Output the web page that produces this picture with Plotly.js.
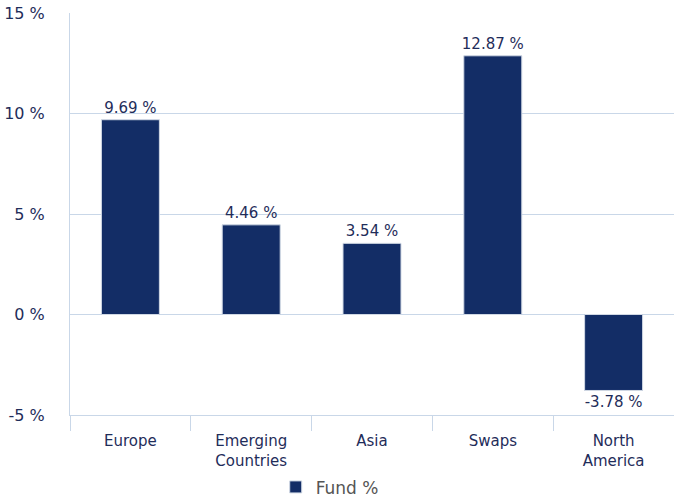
<!DOCTYPE html>
<html>
<head>
<meta charset="utf-8">
<script src="https://cdn.plot.ly/plotly-3.0.1.min.js"></script>
<style>
  body { margin: 0; background: #fff; }
  #chart { width: 674px; height: 500px; }
</style>
</head>
<body>
<div id="chart"></div>
<script>
// regions and fund performance (%)
var regions = ['Europe', 'Emerging<br>Countries', 'Asia', 'Swaps', 'North<br>America'];
var fundValues = [9.69, 4.46, 3.54, 12.87, -3.78];
var yTicks = [-5, 0, 5, 10, 15];
var yTickText = ['-5 %', '0 %', '5 %', '10 %', '15 %'];

var navy = '#132d66';
var gridColor = '#c9d7e8';
var textColor = '#1f2d5a';

var trace = {
    type: 'bar',
    name: 'Fund %',
    x: regions,
    y: fundValues,
    marker: { color: navy, line: { color: '#d0d8e4', width: 1 } },
    text: fundValues.map(function (v) { return v.toFixed(2) + ' %'; }),
    textposition: 'outside',
    constraintext: 'none',
    cliponaxis: false,
    textfont: { color: textColor, size: 15 },
    hoverinfo: 'x+y'
};

var layout = {
    width: 674,
    height: 500,
    margin: { l: 70, r: 0, t: 13, b: 85, autoexpand: false },
    font: { family: 'DejaVu Sans, Verdana, sans-serif', size: 15, color: textColor },
    paper_bgcolor: '#fff',
    plot_bgcolor: '#fff',
    bargap: 0.52,
    showlegend: true,
    legend: {
        orientation: 'h',
        x: 0.43, xanchor: 'center',
        y: -0.18, yanchor: 'middle',
        font: { color: '#555', size: 17 }
    },
    xaxis: {
        type: 'category',
        automargin: false,
        showgrid: false,
        showline: true,
        linecolor: gridColor,
        zeroline: false,
        ticks: 'outside',
        tickson: 'boundaries',
        ticklen: 15,
        tickcolor: gridColor,
        ticklabelstandoff: 12,
        tickfont: { size: 15, color: textColor }
    },
    yaxis: {
        automargin: false,
        range: [-5, 15],
        tickmode: 'array',
        tickvals: yTicks,
        ticktext: yTickText,
        showgrid: true,
        gridcolor: gridColor,
        gridwidth: 1,
        zeroline: true,
        zerolinecolor: gridColor,
        zerolinewidth: 1,
        showline: true,
        linecolor: gridColor,
        ticks: '',
        ticklabelstandoff: 21,
        tickfont: { size: 16, color: textColor }
    }
};

Plotly.newPlot('chart', [trace], layout, { displayModeBar: false });
</script>
</body>
</html>
